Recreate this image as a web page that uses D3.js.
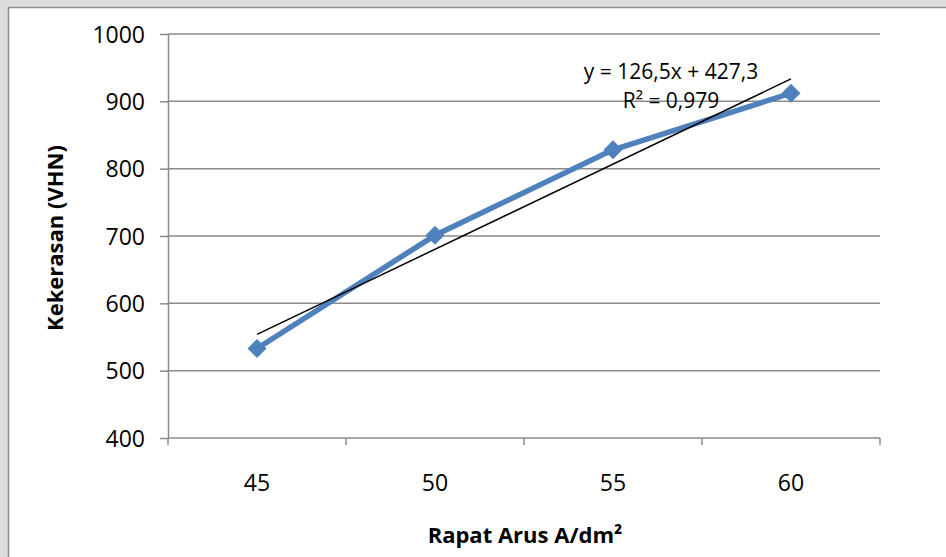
<!DOCTYPE html>
<html lang="id">
<head>
    <meta charset="UTF-8">
    <title>Kekerasan vs Rapat Arus</title>
    <script src="https://d3js.org/d3.v7.min.js"></script>
    <style>
        html, body { margin: 0; padding: 0; background: #dcdcdc; }
        svg { display: block; font-family: "Open Sans", "Noto Sans", sans-serif; }
        .grid line { stroke: #8a8a8a; stroke-width: 1.5px; }
        .axis path, .axis line { stroke: #8a8a8a; stroke-width: 1.5px; }
        .axis text { font-size: 23px; fill: #000; }
        .title { font-size: 22px; font-weight: bold; fill: #000; }
        .eq { font-size: 21px; fill: #000; }
    </style>
</head>
<body>
<div id="chart"></div>
<script>
    // data
    const categories = ["45", "50", "55", "60"];
    const hardness = [533, 701, 828, 912];
    const yTicks = [400, 500, 600, 700, 800, 900, 1000];
    // linear trendline as printed on the chart (x = 1..4)
    const trendSlope = 126.5;
    const trendIntercept = 427.3;
    const trendText = ["y = 126,5x + 427,3", "R\u00B2 = 0,979"];

    const width = 946, height = 557;
    const plot = { left: 168, right: 880, top: 34, bottom: 438 };

    const svg = d3.select('#chart').append('svg')
        .attr('width', width)
        .attr('height', height);

    // chart area (white with grey border, runs off right/bottom edge)
    svg.append('rect')
        .attr('x', 8.5).attr('y', 7.5)
        .attr('width', width + 10).attr('height', height + 10)
        .attr('fill', '#fff')
        .attr('stroke', '#8c8c8c')
        .attr('stroke-width', 1.5);

    const x = d3.scaleBand().domain(categories).range([plot.left, plot.right]);
    const y = d3.scaleLinear().domain([400, 1000]).range([plot.bottom, plot.top]);

    // horizontal gridlines
    svg.append('g').attr('class', 'grid')
        .selectAll('line')
        .data(yTicks.slice(1))
        .enter().append('line')
        .attr('x1', plot.left).attr('x2', plot.right)
        .attr('y1', d => y(d)).attr('y2', d => y(d));

    // y axis
    const yAxis = svg.append('g').attr('class', 'axis')
        .attr('transform', `translate(${plot.left},0)`)
        .call(d3.axisLeft(y).tickValues(yTicks).tickFormat(d3.format('d'))
            .tickSize(8).tickSizeOuter(0).tickPadding(15));
    yAxis.attr('font-family', null).attr('font-size', null);
    yAxis.selectAll('text').attr('dy', '0.36em');

    // x axis: ticks at category boundaries
    const xAxis = svg.append('g').attr('class', 'axis')
        .attr('transform', `translate(0,${plot.bottom})`)
        .call(d3.axisBottom(x).tickSize(0).tickPadding(37));
    xAxis.attr('font-family', null).attr('font-size', null);
    xAxis.select('.domain').attr('d', `M${plot.left},0H${plot.right}`);
    const bounds = categories.map(c => x(c)).concat([x(categories[categories.length - 1]) + x.bandwidth()]);
    xAxis.selectAll('.bound')
        .data(bounds)
        .enter().append('line')
        .attr('class', 'bound')
        .attr('x1', d => d).attr('x2', d => d)
        .attr('y1', 0).attr('y2', 7);

    const cx = c => x(c) + x.bandwidth() / 2;

    // series line
    const line = d3.line()
        .x((d, i) => cx(categories[i]))
        .y(d => y(d));
    svg.append('path')
        .datum(hardness)
        .attr('fill', 'none')
        .attr('stroke', '#4f81bd')
        .attr('stroke-width', 5.5)
        .attr('stroke-linejoin', 'round')
        .attr('d', line);

    // diamond markers
    svg.append('g')
        .selectAll('path')
        .data(hardness)
        .enter().append('path')
        .attr('transform', (d, i) => `translate(${cx(categories[i])},${y(d)})`)
        .attr('d', d3.symbol().type(d3.symbolDiamond2).size(230))
        .attr('fill', '#4f81bd');

    // trendline
    const trend = categories.map((c, i) => trendSlope * (i + 1) + trendIntercept);
    svg.append('line')
        .attr('x1', cx(categories[0])).attr('y1', y(trend[0]))
        .attr('x2', cx(categories[categories.length - 1])).attr('y2', y(trend[trend.length - 1]))
        .attr('stroke', '#000')
        .attr('stroke-width', 1.5);

    // trendline label
    svg.append('text').attr('class', 'eq')
        .attr('x', 671).attr('y', 79)
        .attr('text-anchor', 'middle')
        .text(trendText[0]);
    svg.append('text').attr('class', 'eq')
        .attr('x', 671).attr('y', 108)
        .attr('text-anchor', 'middle')
        .text(trendText[1]);

    // axis titles
    svg.append('text').attr('class', 'title')
        .attr('x', 525).attr('y', 543)
        .attr('text-anchor', 'middle')
        .text('Rapat Arus A/dm\u00B2');
    svg.append('text').attr('class', 'title')
        .attr('transform', 'translate(63,238) rotate(-90)')
        .attr('text-anchor', 'middle')
        .text('Kekerasan (VHN)');
</script>
</body>
</html>
